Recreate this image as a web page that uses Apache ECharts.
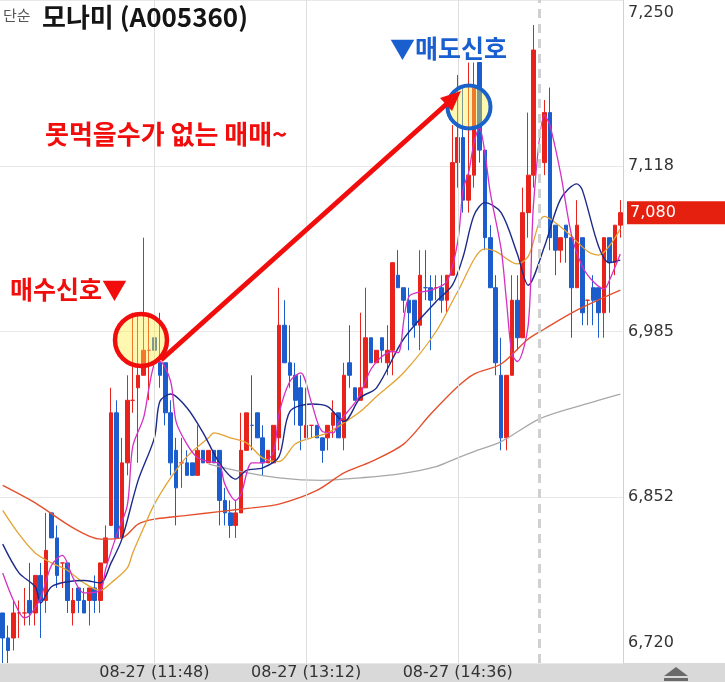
<!DOCTYPE html>
<html>
<head>
<meta charset="utf-8">
<script src="https://cdn.jsdelivr.net/npm/echarts@6/dist/echarts.min.js"></script>
<style>
html, body { margin: 0; padding: 0; background: #fff; }
#chart { width: 725px; height: 682px; }
</style>
</head>
<body>
<div id="chart"></div>
<script>
// 3분봉 [시가, 종가, 저가, 고가]
var candles = [
  [6760, 6740, 6720, 6760], [6740, 6730, 6720, 6750], [6740, 6760, 6730, 6770], [6760, 6760, 6740, 6770],
  [6760, 6760, 6750, 6780], [6770, 6760, 6750, 6800], [6760, 6790, 6750, 6790], [6790, 6770, 6740, 6800],
  [6770, 6810, 6760, 6840], [6840, 6820, 6820, 6840], [6820, 6790, 6780, 6830], [6800, 6800, 6780, 6800],
  [6800, 6770, 6760, 6800], [6760, 6770, 6750, 6780], [6780, 6770, 6760, 6780], [6770, 6760, 6760, 6780],
  [6770, 6780, 6750, 6780], [6780, 6770, 6760, 6790], [6770, 6800, 6760, 6800], [6800, 6820, 6800, 6830],
  [6830, 6920, 6830, 6940], [6920, 6820, 6820, 6930], [6820, 6880, 6820, 6900], [6880, 6930, 6870, 6950],
  [6930, 6930, 6920, 7000], [6940, 6950, 6880, 7000], [6950, 6970, 6950, 7060], [6970, 6970, 6930, 7000],
  [6980, 6970, 6970, 6990], [6960, 6950, 6940, 7000], [6960, 6920, 6910, 6960], [6920, 6880, 6870, 6930],
  [6890, 6860, 6830, 6900], [6880, 6880, 6860, 6900], [6880, 6870, 6870, 6890], [6880, 6870, 6870, 6880],
  [6870, 6890, 6870, 6910], [6890, 6880, 6880, 6890], [6880, 6890, 6880, 6890], [6890, 6880, 6880, 6890],
  [6890, 6850, 6830, 6890], [6850, 6840, 6830, 6860], [6840, 6830, 6820, 6850], [6830, 6840, 6820, 6850],
  [6840, 6890, 6840, 6920], [6890, 6920, 6890, 6920], [6910, 6910, 6890, 6950], [6920, 6900, 6900, 6920],
  [6900, 6880, 6870, 6910], [6880, 6890, 6880, 6890], [6880, 6910, 6880, 6910], [6900, 6990, 6890, 7020],
  [6990, 6960, 6960, 7010], [6960, 6950, 6940, 6990], [6950, 6930, 6910, 6960], [6940, 6910, 6890, 6950],
  [6900, 6910, 6900, 6940], [6910, 6910, 6900, 6910], [6910, 6900, 6900, 6910], [6900, 6890, 6880, 6900],
  [6900, 6910, 6890, 6910], [6910, 6920, 6900, 6930], [6920, 6900, 6900, 6920], [6900, 6950, 6890, 6960],
  [6960, 6950, 6940, 6990], [6940, 6930, 6930, 6940], [6930, 6940, 6930, 7000], [6940, 6980, 6940, 7020],
  [6980, 6960, 6960, 6980], [6960, 6970, 6960, 6970], [6980, 6970, 6960, 6980], [6960, 6970, 6950, 6990],
  [6970, 7040, 6950, 7040], [7030, 7020, 7020, 7050], [7020, 7010, 7000, 7020], [7010, 7000, 6970, 7020],
  [7010, 6990, 6980, 7010], [6990, 7030, 6970, 7050], [7020, 7020, 7010, 7050], [7020, 7010, 6970, 7030],
  [7020, 7020, 7010, 7030], [7020, 7010, 7000, 7030], [7010, 7030, 7000, 7030], [7030, 7120, 7030, 7150],
  [7120, 7140, 7100, 7190], [7140, 7090, 7080, 7180], [7090, 7110, 7080, 7200], [7110, 7180, 7100, 7200],
  [7200, 7130, 7120, 7200], [7130, 7060, 7050, 7130], [7060, 7020, 7020, 7070], [7020, 6960, 6950, 7030],
  [6950, 6900, 6890, 6980], [6900, 6950, 6890, 6950], [6950, 7010, 6950, 7030], [7010, 6980, 6970, 7030],
  [6980, 7080, 6980, 7100], [7080, 7110, 7060, 7160], [7110, 7210, 7100, 7230], ['-', '-', '-', '-'],
  [7120, 7160, 7110, 7170], [7160, 7060, 7050, 7180], [7070, 7050, 7030, 7070], [7050, 7060, 7040, 7060],
  [7070, 7060, 7040, 7070], [7060, 7020, 6980, 7060], [7020, 7070, 7020, 7090], [7060, 7000, 6990, 7060],
  [7010, 7010, 6990, 7010], [7020, 7010, 6990, 7030], [7020, 7000, 6980, 7020], [7000, 7060, 6980, 7060],
  [7060, 7040, 7000, 7060], [7040, 7070, 7030, 7070], [7070, 7080, 7060, 7090]
];

// 이동평균선 [봉 번호, 값]
var ma5 = [[0,6792],[2,6770],[4,6756],[5,6758],[7,6772],[9,6798],[11,6806],[13,6788],[15,6776],[18,6778],
  [19,6795],[21,6822],[23,6846],[24,6893],[26,6916],[27,6940],[28,6959],[29,6961],[31,6945],[32,6913],
  [34,6895],[36,6884],[38,6881],[40,6879],[41,6863],[43,6850],[44,6855],[46,6880],[48,6880],[50,6889],
  [51,6919],[53,6945],[55,6952],[57,6928],[59,6905],[61,6904],[62,6912],[65,6928],[66,6935],[68,6955],
  [70,6965],[72,6969],[73,6968],[75,7013],[79,7018],[82,7025],[84,7057],[85,7099],[86,7112],[87,7136],
  [88,7148],[89,7128],[90,7096],[92,7051],[93,7009],[94,6967],[95,6961],[97,6990],[98,7088],[100,7158],
  [101,7150],[103,7111],[105,7062],[107,7037],[109,7025],[111,7019],[112,7026],[114,7047]];
var ma10 = [[0,6815],[3,6792],[6,6781],[7,6768],[9,6781],[12,6785],[15,6786],[18,6784],[20,6800],[22,6819],
  [25,6866],[28,6900],[29,6929],[31,6935],[34,6924],[37,6904],[40,6880],[43,6867],[45,6874],[48,6876],
  [51,6885],[53,6921],[57,6927],[60,6925],[63,6913],[66,6932],[69,6940],[74,6979],[80,7009],[83,7022],
  [85,7045],[87,7078],[89,7088],[92,7080],[95,7047],[97,7022],[100,7053],[103,7091],[106,7103],[107,7098],
  [110,7053],[112,7040],[114,7042]];
var ma20 = [[0,6842],[3,6823],[6,6808],[9,6800],[12,6794],[15,6784],[18,6778],[20,6784],[23,6796],[24,6808],
  [26,6828],[28,6847],[31,6868],[34,6885],[38,6900],[39,6904],[42,6900],[45,6896],[48,6884],[51,6881],
  [54,6895],[57,6900],[60,6904],[63,6912],[66,6921],[69,6933],[74,6952],[80,6985],[84,7017],[89,7051],
  [91,7049],[95,7039],[97,7045],[100,7077],[104,7065],[108,7049],[110,7046],[114,7067]];
var ma60 = [[0,6862],[6,6848],[13,6828],[18,6819],[22,6820],[25,6831],[28,6835],[34,6838],[40,6841],[46,6844],
  [51,6847],[58,6858],[63,6872],[68,6881],[74,6895],[79,6919],[84,6941],[87,6951],[92,6959],[97,6979],
  [100,6987],[106,7002],[114,7018]];
var ma120 = [[38,6879],[44,6873],[51,6868],[59,6866],[66,6868],[73,6871],[80,6877],[84,6884],[87,6889],
  [92,6897],[99,6915],[106,6925],[114,6935]];

var yTicks = ['6,720', '6,852', '6,985', '7,118', '7,250'];
var xLabels = { 28: '08-27 (11:48)', 56: '08-27 (13:12)', 84: '08-27 (14:36)' };
var dayBreak = 99;
var lastPrice = 7080;

function pad(n) { return (n < 10 ? '0' : '') + n; }
var times = [];
for (var i = 0; i < candles.length; i++) {
  var m = 10 * 60 + 24 + i * 3;
  times.push(pad(Math.floor(m / 60)) + ':' + pad(m % 60));
}

var UP = '#e8231c', DOWN = '#1b5dcc';
var FONT = 'Noto Sans CJK KR';
var NUM_FONT = 'DejaVu Sans';

var myChart = echarts.init(document.getElementById('chart'));

function maSeries(name, data, color, width) {
  return {
    name: name, type: 'line', data: data, smooth: 0.3, symbol: 'none',
    lineStyle: { color: color, width: width }, z: 3, silent: true
  };
}

var option = {
  animation: false,
  backgroundColor: '#fff',
  grid: { left: 0, right: 102, top: -3, bottom: 19 },
  xAxis: {
    type: 'category',
    data: times,
    boundaryGap: true,
    axisLine: { show: false },
    axisTick: { show: false },
    splitLine: { show: false },
    axisLabel: {
      interval: function (idx) { return xLabels[idx] !== undefined; },
      formatter: function (v, idx) { return xLabels[idx] || ''; },
      fontFamily: NUM_FONT, fontSize: 16, color: '#333', margin: 2
    }
  },
  yAxis: {
    type: 'value',
    position: 'right',
    min: 6720, max: 7250, interval: 132.5,
    axisLine: { show: true, lineStyle: { color: '#d2d2d2' } },
    axisTick: { show: false },
    splitLine: { show: true, lineStyle: { color: '#e8e8e8' } },
    axisLabel: {
      margin: 5, fontFamily: NUM_FONT, fontSize: 16, color: '#333',
      formatter: function (v) {
        var k = Math.round((v - 6720) / 132.5);
        if (k === 4) return '{top|' + yTicks[k] + '}';
        if (k === 0) return '{bot|' + yTicks[k] + '}';
        return yTicks[k];
      },
      rich: {
        top: { padding: [26, 0, 0, 0], fontFamily: NUM_FONT, fontSize: 16, color: '#333' },
        bot: { padding: [0, 0, 40, 0], fontFamily: NUM_FONT, fontSize: 16, color: '#333' }
      }
    }
  },
  series: [
    {
      // 세로 구분선
      type: 'line', data: [], z: 1, silent: true,
      markLine: {
        silent: true, symbol: 'none', animation: false,
        label: { show: false },
        data: [
          { xAxis: times[28], lineStyle: { color: '#dedede', width: 1, type: 'solid' } },
          { xAxis: times[56], lineStyle: { color: '#dedede', width: 1, type: 'solid' } },
          { xAxis: times[84], lineStyle: { color: '#dedede', width: 1, type: 'solid' } },
          { xAxis: times[dayBreak], lineStyle: { color: '#d0d0d0', width: 3, type: [9, 6] } }
        ]
      }
    },
    {
      type: 'candlestick',
      data: candles,
      barWidth: '76%',
      z: 2,
      clip: false,
      itemStyle: { color: UP, color0: DOWN, borderColor: UP, borderColor0: DOWN, borderWidth: 1 },
      markLine: {
        silent: true, symbol: 'none', animation: false,
        data: [{
          yAxis: lastPrice,
          lineStyle: { color: 'rgba(0,0,0,0)', width: 1, type: 'solid' },
          label: {
            show: true, position: 'end', distance: 4,
            formatter: '7,080', color: '#fff', fontFamily: NUM_FONT, fontSize: 16,
            backgroundColor: '#e5200f', padding: [4, 60, 3, 3]
          }
        }]
      }
    },
    maSeries('MA120', ma120, '#a8a8a8', 1.3),
    maSeries('MA60', ma60, '#e4502c', 1.4),
    maSeries('MA20', ma20, '#e3a332', 1.3),
    maSeries('MA10', ma10, '#1c2a8a', 1.4),
    maSeries('MA5', ma5, '#d52fc4', 1.3)
  ],
  graphic: [
    { type: 'rect', z: -10, shape: { x: 0, y: 663, width: 725, height: 19 }, style: { fill: '#d9d9d9' } },
    { type: 'polygon', z: 50, shape: { points: [[664, 676], [676, 667], [688, 676]] }, style: { fill: '#6a6a6a' } },
    { type: 'rect', z: 50, shape: { x: 664, y: 678, width: 24, height: 3 }, style: { fill: '#6a6a6a' } },
    { type: 'text', z: 50, style: { text: '단순', x: 3, y: 15, fontFamily: FONT, fontSize: 15, fill: '#555', verticalAlign: 'middle', textVerticalAlign: 'middle' } },
    { type: 'text', z: 50, style: { text: '모나미 (A005360)', x: 42, y: 17, fontFamily: FONT, fontSize: 26, fontWeight: 'bold', fill: '#151515', verticalAlign: 'middle', textVerticalAlign: 'middle' } },
    // 주석
    { type: 'circle', z: 100, shape: { cx: 141, cy: 340, r: 26 }, style: { fill: 'rgba(255,238,70,0.42)', stroke: '#f20d0d', lineWidth: 4.5 } },
    { type: 'circle', z: 100, shape: { cx: 469, cy: 107, r: 21.5 }, style: { fill: 'rgba(255,238,70,0.42)', stroke: '#1a62c9', lineWidth: 4 } },
    { type: 'line', z: 101, shape: { x1: 161, y1: 360, x2: 450, y2: 101 }, style: { stroke: '#f20d0d', lineWidth: 5 } },
    { type: 'polygon', z: 101, shape: { points: [[461, 91], [440, 98], [452, 111]] }, style: { fill: '#f20d0d' } },
    { type: 'text', z: 100, style: { text: '매수신호▼', x: 10, y: 289, fontFamily: FONT, fontSize: 25, fontWeight: 'bold', fill: '#f20d0d', verticalAlign: 'middle', textVerticalAlign: 'middle' } },
    { type: 'text', z: 100, style: { text: '▼매도신호', x: 390, y: 48, fontFamily: FONT, fontSize: 25, fontWeight: 'bold', fill: '#1a5fcf', verticalAlign: 'middle', textVerticalAlign: 'middle' } },
    { type: 'text', z: 100, style: { text: '못먹을수가 없는 매매~', x: 45, y: 134, fontFamily: FONT, fontSize: 26, fontWeight: 'bold', fill: '#f20d0d', verticalAlign: 'middle', textVerticalAlign: 'middle' } }
  ]
};

myChart.setOption(option);
window.onresize = function () {
  myChart.resize();
};
</script>
</body>
</html>
